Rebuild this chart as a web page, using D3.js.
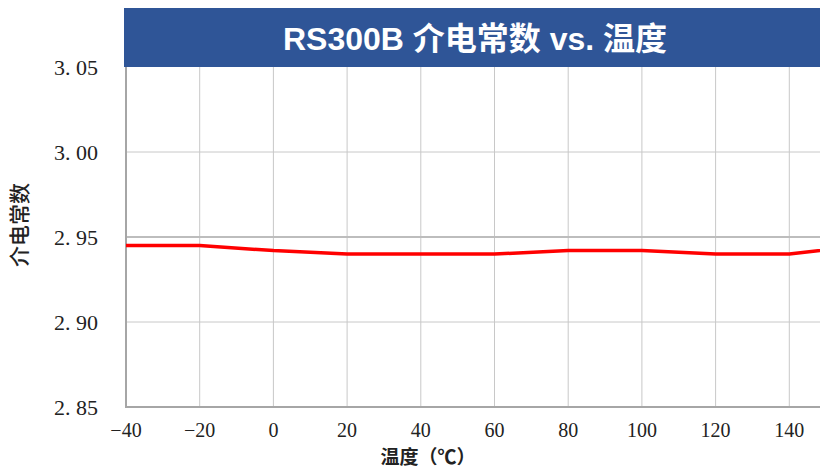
<!DOCTYPE html>
<html><head><meta charset="utf-8">
<script src="https://cdn.jsdelivr.net/npm/d3@7"></script>
<style>body{margin:0;background:#fff}svg{display:block}</style>
</head><body>
<svg id="c" width="820" height="472"></svg>
<script>
const temps = [-40, -20, 0, 20, 40, 60, 80, 100, 120, 140, 160];
const dk = [2.945, 2.945, 2.942, 2.940, 2.940, 2.940, 2.942, 2.942, 2.940, 2.940, 2.945];
const xTicks = [-40, -20, 0, 20, 40, 60, 80, 100, 120, 140];
const yTicks = [2.85, 2.90, 2.95, 3.00, 3.05];
const title = "RS300B 介电常数 vs. 温度";
const xTitle = "温度（℃）";
const yTitle = "介电常数";

const svg = d3.select("#c");
const L = 126, T = 67, B = 407, R = 820;
const x = d3.scaleLinear().domain([-40, 150]).range([L, L + 73.7 * 9.5]);
const y = d3.scaleLinear().domain([2.85, 3.05]).range([B, T]);

svg.append("defs").append("clipPath").attr("id", "clip")
  .append("rect").attr("x", L).attr("y", T).attr("width", R - L).attr("height", B - T);

// gridlines
svg.append("g").selectAll("line").data(xTicks.slice(1)).join("line")
  .attr("x1", d => x(d)).attr("x2", d => x(d)).attr("y1", T).attr("y2", B)
  .attr("stroke", "#c8c8c8").attr("stroke-width", 1);
svg.append("g").selectAll("line").data(yTicks.filter(d => d > 2.85 && d < 3.05)).join("line")
  .attr("x1", L).attr("x2", R).attr("y1", d => y(d)).attr("y2", d => y(d))
  .attr("stroke", d => Math.abs(d - 2.95) < 1e-9 ? "#bdbdbd" : "#c8c8c8")
  .attr("stroke-width", d => Math.abs(d - 2.95) < 1e-9 ? 2 : 1);

// axes lines
svg.append("line").attr("x1", L).attr("x2", L).attr("y1", T).attr("y2", B + 1)
  .attr("stroke", "#a6a6a6").attr("stroke-width", 2);
svg.append("line").attr("x1", L).attr("x2", R).attr("y1", B).attr("y2", B)
  .attr("stroke", "#a6a6a6").attr("stroke-width", 2);

// line
const line = d3.line().x((d, i) => x(temps[i])).y(d => y(d));
svg.append("path").datum(dk).attr("clip-path", "url(#clip)")
  .attr("d", line).attr("fill", "none").attr("stroke", "#ff0000")
  .attr("stroke-width", 3.5).attr("stroke-linejoin", "round");

// title band
svg.append("rect").attr("x", 124).attr("y", 8).attr("width", R - 124).attr("height", T - 8)
  .attr("fill", "#2f5597");
svg.append("text").attr("x", 475).attr("y", 50).attr("text-anchor", "middle")
  .attr("fill", "#fff").attr("font-family", "'Liberation Sans', 'Noto Sans CJK SC', sans-serif")
  .attr("font-weight", "bold").attr("font-size", 32).text(title);

// y tick labels
const fmtY = d => d3.format(".2f")(d).replace(".", ". ");
svg.append("g").selectAll("text").data(yTicks).join("text")
  .attr("x", 98).attr("y", d => y(d)).attr("dy", "0.35em").attr("text-anchor", "end")
  .attr("font-family", "'Liberation Serif', 'DejaVu Serif', serif").attr("font-size", 22)
  .attr("fill", "#222").text(fmtY);

// x tick labels
svg.append("g").selectAll("text").data(xTicks).join("text")
  .attr("x", d => x(d)).attr("y", 437).attr("text-anchor", "middle")
  .attr("font-family", "'Liberation Serif', 'DejaVu Serif', serif").attr("font-size", 20)
  .attr("fill", "#222").text(d => d < 0 ? "\u2212" + Math.abs(d) : String(d));

// axis titles
svg.append("text").attr("x", 428).attr("y", 464).attr("text-anchor", "middle")
  .attr("font-family", "'Noto Sans CJK SC', sans-serif").attr("font-weight", "bold")
  .attr("font-size", 19).attr("fill", "#222").text(xTitle);
svg.append("text").attr("transform", "translate(27,225) rotate(-90)").attr("text-anchor", "middle")
  .attr("font-family", "'Noto Sans CJK SC', sans-serif").attr("font-weight", 500)
  .attr("font-size", 21).attr("fill", "#222").text(yTitle);
</script>
</body></html>
